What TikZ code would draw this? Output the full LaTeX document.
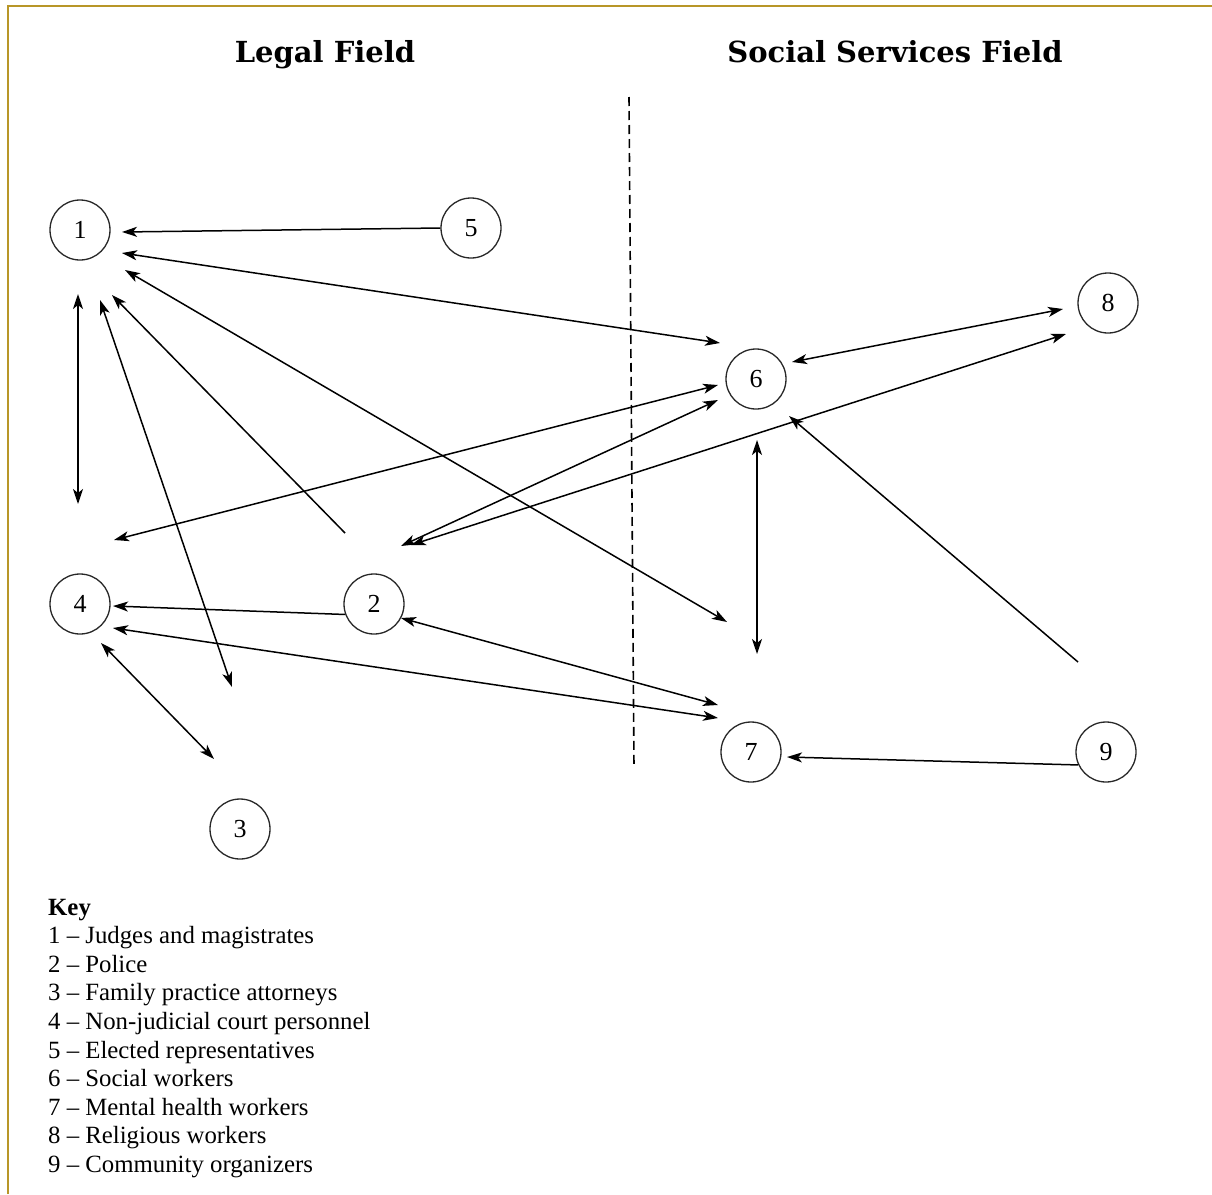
\documentclass[tikz,border=0pt]{standalone}
\usepackage{fontspec}
\setmainfont{Liberation Serif}
\newfontfamily\titlefont{DejaVu Serif}
\usetikzlibrary{arrows.meta}
\definecolor{pageedge}{RGB}{184,150,40}
\definecolor{circline}{RGB}{40,40,40}
\tikzset{
  actor/.style={circle,draw=circline,line width=1.3pt,minimum size=60pt,inner sep=0pt,font=\fontsize{26}{28}\selectfont},
  conn/.style={line width=1.5pt,black},
  tip/.style={-{Stealth[length=15pt,width=10pt,inset=4pt]}},
  both/.style={{Stealth[length=15pt,width=10pt,inset=4pt]}-{Stealth[length=15pt,width=10pt,inset=4pt]}},
  heading/.style={anchor=base,font=\titlefont\bfseries\fontsize{29}{31}\selectfont,inner sep=0pt},
  keytext/.style={anchor=base west,inner sep=0pt,font=\fontsize{24.8}{27}\selectfont}
}
\begin{document}
\begin{tikzpicture}[x=1pt,y=-1pt]
\useasboundingbox (0,0) rectangle (1212,1194);
\fill[white] (0,0) rectangle (1212,1194);
\draw[pageedge,line width=2pt] (8,1194) -- (8,6) -- (1212,6);

\node[heading] (tl) at (325,62) {Legal Field};
\node[heading] (ts) at (895,62) {Social Services Field};

\coordinate (dtop) at (629,97);
\coordinate (dbot) at (634,768);
\draw[line width=1.6pt,dash pattern=on 9pt off 5pt] (dtop) -- (dbot);

\node[actor] (n1) at (80,230) {1};
\node[actor] (n2) at (374,604) {2};
\node[actor] (n3) at (240,829) {3};
\node[actor] (n4) at (80,604) {4};
\node[actor] (n5) at (471,228) {5};
\node[actor] (n6) at (756,379) {6};
\node[actor] (n7) at (751,752) {7};
\node[actor] (n8) at (1108,303) {8};
\node[actor] (n9) at (1106,752) {9};

% free ends
\coordinate (c1a) at (122,232);
\coordinate (c1b) at (122,253);
\coordinate (c6a) at (720,343);
\coordinate (c1c) at (125,270);
\coordinate (c7a) at (727,622);
\coordinate (c1d) at (78,294);
\coordinate (c4a) at (78,504);
\coordinate (c1e) at (100,300);
\coordinate (c3a) at (232,687);
\coordinate (c1f) at (112,295);
\coordinate (c2a) at (345,533);
\coordinate (c4b) at (114,540);
\coordinate (c6b) at (718,385);
\coordinate (c2b) at (401,546);
\coordinate (c6c) at (718,400);
\coordinate (c2c) at (411,545);
\coordinate (c8a) at (1066,334);
\coordinate (c6d) at (792,362);
\coordinate (c8b) at (1063,309);
\coordinate (c6e) at (757,440);
\coordinate (c7b) at (757,654);
\coordinate (c9a) at (1078,662);
\coordinate (c6f) at (789,416);
\coordinate (c7c) at (787,757);
\coordinate (c4c) at (113,606);
\coordinate (c4d) at (113,628);
\coordinate (c7d) at (718,718);
\coordinate (c2d) at (401,618);
\coordinate (c7e) at (718,705);
\coordinate (c4e) at (101,643);
\coordinate (c3b) at (214,759);

\draw[conn,tip] (n5.west) -- (c1a);
\draw[conn,both] (c1b) -- (c6a);
\draw[conn,both] (c1c) -- (c7a);
\draw[conn,both] (c1d) -- (c4a);
\draw[conn,both] (c1e) -- (c3a);
\draw[conn,tip] (c2a) -- (c1f);
\draw[conn,both] (c4b) -- (c6b);
\draw[conn,both] (c2b) -- (c6c);
\draw[conn,both] (c2c) -- (c8a);
\draw[conn,both] (c6d) -- (c8b);
\draw[conn,both] (c6e) -- (c7b);
\draw[conn,tip] (c9a) -- (c6f);
\draw[conn,tip] (n9.205) -- (c7c);
\draw[conn,tip] (n2.200) -- (c4c);
\draw[conn,both] (c4d) -- (c7d);
\draw[conn,both] (c2d) -- (c7e);
\draw[conn,both] (c4e) -- (c3b);

\node[keytext,font=\bfseries\fontsize{24.8}{27}\selectfont] (k0) at (48,915) {Key};
\node[keytext] (k1) at (48,943.6) {1 -- Judges and magistrates};
\node[keytext] (k2) at (48,972.2) {2 -- Police};
\node[keytext] (k3) at (48,1000.8) {3 -- Family practice attorneys};
\node[keytext] (k4) at (48,1029.4) {4 -- Non-judicial court personnel};
\node[keytext] (k5) at (48,1058) {5 -- Elected representatives};
\node[keytext] (k6) at (48,1086.6) {6 -- Social workers};
\node[keytext] (k7) at (48,1115.2) {7 -- Mental health workers};
\node[keytext] (k8) at (48,1143.8) {8 -- Religious workers};
\node[keytext] (k9) at (48,1172.4) {9 -- Community organizers};
\end{tikzpicture}
\end{document}
